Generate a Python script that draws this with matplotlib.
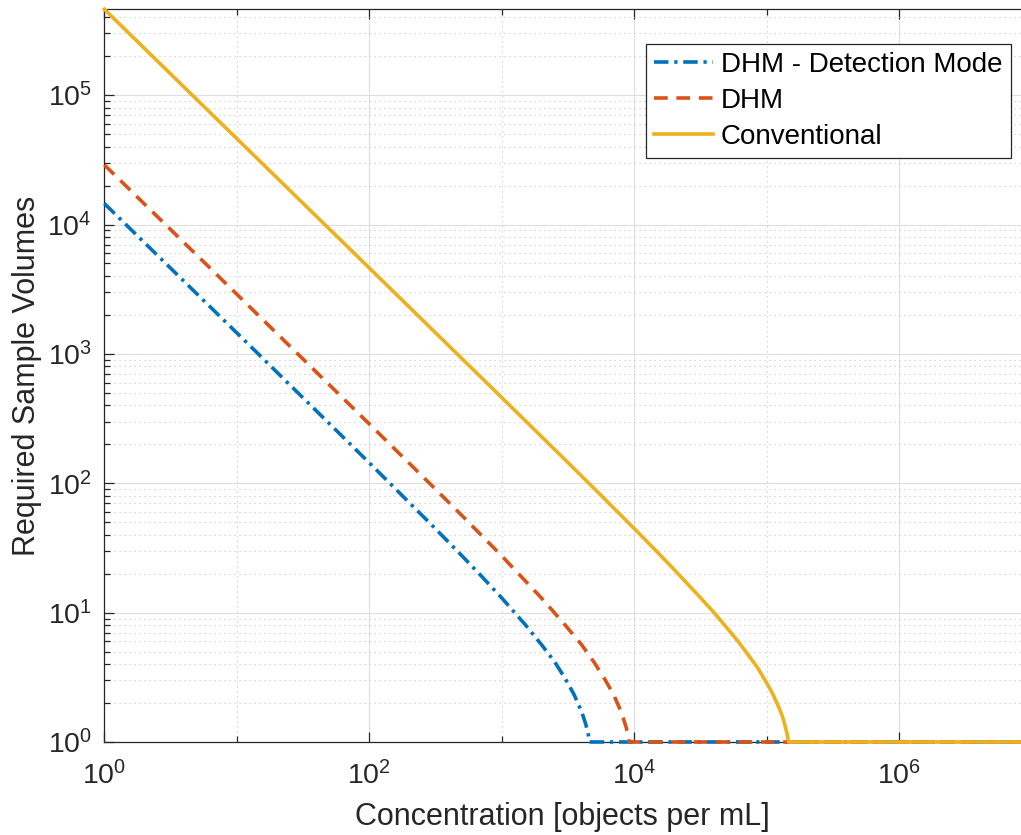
import numpy as np
import matplotlib.pyplot as plt
from matplotlib.ticker import LogLocator, NullFormatter

plt.rcParams['font.family'] = ['Liberation Sans', 'DejaVu Sans']

# values (concentration, required volumes)
conc_det = [1, 10, 100, 300, 500, 700, 1e3, 1.5e3, 2e3, 2.5e3, 3e3, 3.5e3, 4e3, 4.3e3, 4.5e3, 4.6e3, 8.3e6]
vol_det = [1.453e4, 1.453e3, 143.8, 46.9, 27.5, 19.2, 12.97, 8.09, 5.63, 4.18, 3.11, 2.34, 1.72, 1.376, 1.139, 1.0, 1.0]

conc_dhm = [1, 10, 100, 300, 500, 1e3, 2e3, 3e3, 4e3, 5e3, 6e3, 7e3, 8e3, 8.7e3, 9.16e3, 8.3e6]
vol_dhm = [2.89e4, 2.89e3, 287, 94.8, 56.3, 27.4, 12.9, 8.04, 5.65, 4.10, 3.05, 2.31, 1.69, 1.29, 1.0, 1.0]

conc_conv = [1, 10, 100, 1e3, 3e3, 5e3, 1e4, 1.5e4, 2e4, 3e4, 4e4, 5e4, 6e4, 7e4, 8.5e4, 1e5, 1.1e5, 1.2e5,
             1.3e5, 1.35e5, 1.42e5, 1.46e5, 8.3e6]
vol_conv = [4.61e5, 4.61e4, 4.61e3, 459, 152.1, 90.7, 44.6, 29.2, 21.5, 13.8, 9.99, 7.62, 6.08, 4.94, 3.77,
            2.85, 2.39, 1.98, 1.62, 1.43, 1.17, 1.0, 1.0]

labels = ['DHM - Detection Mode', 'DHM', 'Conventional']
colors = ['#0072BD', '#D95319', '#EDB120']

fig = plt.figure(figsize=(10.21, 8.35), dpi=100)
ax = fig.add_axes([0.1022, 0.1114, 0.8978, 0.8775])

lw = 2.6
ax.plot(conc_det, vol_det, color=colors[0], lw=lw, ls=(0, (4.0, 1.6, 0.9, 1.6)),
        label=labels[0], clip_on=False, zorder=3)
ax.plot(conc_dhm, vol_dhm, color=colors[1], lw=lw, ls=(0, (3.8, 2.4)),
        label=labels[1], clip_on=False, zorder=3)
ax.plot(conc_conv, vol_conv, color=colors[2], lw=lw, ls='-',
        label=labels[2], clip_on=False, zorder=3)

ax.set_xscale('log')
ax.set_yscale('log')
ax.set_xlim(1, 8.3e6)
ax.set_ylim(1, 4.61e5)

ax.xaxis.set_major_locator(LogLocator(base=10, numticks=20))
ax.xaxis.set_minor_locator(LogLocator(base=10, subs=np.arange(2, 10), numticks=100))
ax.yaxis.set_major_locator(LogLocator(base=10, numticks=20))
ax.yaxis.set_minor_locator(LogLocator(base=10, subs=np.arange(2, 10), numticks=100))
ax.xaxis.set_minor_formatter(NullFormatter())
ax.yaxis.set_minor_formatter(NullFormatter())
# only even decades labelled on x
ax.set_xticks([1, 1e2, 1e4, 1e6])

dark = '#262626'
ax.grid(True, which='major', color='#dedede', lw=0.8, ls='-')
ax.grid(True, which='minor', color='#c4c4c4', lw=0.8, ls=(0, (1, 3.5)))
ax.set_axisbelow(True)

for s in ['left', 'bottom', 'top']:
    ax.spines[s].set_color(dark)
    ax.spines[s].set_linewidth(0.9)
ax.spines['right'].set_visible(False)

ax.tick_params(which='both', direction='in', top=True, right=False, colors=dark,
               labelsize=20.5, width=0.9)
ax.tick_params(which='major', length=7)
ax.tick_params(which='minor', length=4)
ax.tick_params(axis='x', which='major', pad=14)
ax.tick_params(axis='y', which='major', pad=9)
# odd x decades still get a tick
ax.set_xticks([10, 1e3, 1e5], minor=True)

ax.set_xlabel('Concentration [objects per mL]', fontsize=22, color=dark, labelpad=8)
ax.set_ylabel('Required Sample Volumes', fontsize=22, color=dark, labelpad=4)

leg = ax.legend(loc='upper right', bbox_to_anchor=(0.989, 0.953), fontsize=20,
                frameon=True, fancybox=False, edgecolor='#262626', framealpha=1,
                borderpad=0.3, labelspacing=0.36, handlelength=2.1, handletextpad=0.3,
                borderaxespad=0)
leg.get_frame().set_linewidth(0.9)

fig.savefig('out.png', dpi=100)
